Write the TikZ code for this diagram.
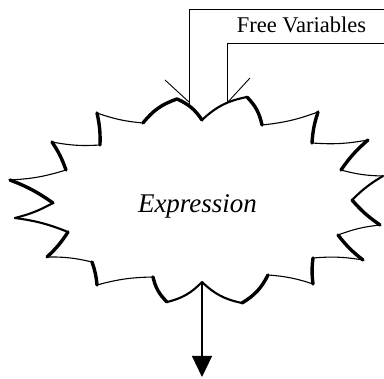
\documentclass[tikz,border=0pt]{standalone}
\usepackage{fontspec}
\setmainfont{Liberation Serif}
\usetikzlibrary{arrows.meta}
\begin{document}
\begin{tikzpicture}[x=1pt,y=1pt,
  thinline/.style={line width=0.9pt},
  sthin/.style={line width=1.1pt,line cap=round},
  smed/.style={line width=2.1pt,line cap=round},
  sthick/.style={line width=3.4pt,line cap=round},
  edge/.style={bend right=7},
  redge/.style={bend left=16}]
\useasboundingbox (0,0) rectangle (384,-379);
% star vertices
\coordinate (I0) at (202,-120);
\coordinate (O1) at (247,-97);
\coordinate (I1) at (262,-125);
\coordinate (O2) at (318,-112);
\coordinate (I2) at (312,-143);
\coordinate (O3) at (368,-140);
\coordinate (I3) at (341,-170);
\coordinate (O4) at (383,-176);
\coordinate (I4) at (352,-200);
\coordinate (O5) at (380,-225);
\coordinate (I5) at (338,-235);
\coordinate (O6) at (363,-260);
\coordinate (I6) at (313,-258);
\coordinate (O7) at (313,-284);
\coordinate (I7) at (268,-275);
\coordinate (O8) at (242,-303);
\coordinate (I8) at (202,-282);
\coordinate (O9) at (167,-302);
\coordinate (I9) at (153,-277);
\coordinate (O10) at (97,-285);
\coordinate (I10) at (92,-262);
\coordinate (O11) at (47,-257);
\coordinate (I11) at (68,-232);
\coordinate (O12) at (15,-218);
\coordinate (I12) at (53,-203);
\coordinate (O13) at (10,-180);
\coordinate (I13) at (66,-170);
\coordinate (O14) at (52,-142);
\coordinate (I14) at (100,-145);
\coordinate (O15) at (97,-113);
\coordinate (I15) at (143,-123);
\coordinate (O16) at (177,-99);
% free variables bracket
\coordinate (r1) at (384,-9);
\coordinate (c1) at (189,-9);
\coordinate (e1) at (189,-112);
\coordinate (b1) at (189,-102);
\coordinate (r2) at (384,-43);
\coordinate (c2) at (227,-43);
\coordinate (e2) at (227,-112);
\coordinate (b2) at (227,-103);
\coordinate (vl) at (165,-80);
\coordinate (vr) at (250,-78);
\draw[thinline] (r1) -- (c1) -- (e1);
\draw[thinline] (r2) -- (c2) -- (e2);
\draw[thinline] (vl) -- (b1);
\draw[thinline] (vr) -- (b2);
\node[anchor=base,inner sep=0pt] (fv) at (301.5,-33) {\fontsize{22.5}{26}\selectfont Free Variables};
% star fill
\fill[white] (I0) to[redge] (O1) to[redge] (I1) to[edge] (O2) to[edge] (I2)
  to[edge] (O3) to[edge] (I3) to[edge] (O4) to[edge] (I4) to[edge] (O5)
  to[edge] (I5) to[edge] (O6) to[edge] (I6) to[edge] (O7) to[edge] (I7)
  to[redge] (O8) to[redge] (I8) to[redge] (O9) to[redge] (I9) to[edge] (O10)
  to[edge] (I10) to[edge] (O11) to[edge] (I11) to[edge] (O12) to[edge] (I12)
  to[edge] (O13) to[edge] (I13) to[edge] (O14) to[edge] (I14) to[edge] (O15)
  to[edge] (I15) to[redge] (O16) to[redge] (I0) -- cycle;
% star outline, calligraphic widths
\draw[smed] (I0) to[redge] (O1);
\draw[sthick] (O1) to[redge] (I1);
\draw[sthin] (I1) to[edge] (O2);
\draw[sthick] (O2) to[edge] (I2);
\draw[sthin] (I2) to[edge] (O3);
\draw[sthick] (O3) to[edge] (I3);
\draw[sthin] (I3) to[edge] (O4);
\draw[smed] (O4) to[edge] (I4);
\draw[sthick] (I4) to[edge] (O5);
\draw[sthin] (O5) to[edge] (I5);
\draw[sthick] (I5) to[edge] (O6);
\draw[sthin] (O6) to[edge] (I6);
\draw[sthick] (I6) to[edge] (O7);
\draw[sthin] (O7) to[edge] (I7);
\draw[sthick] (I7) to[redge] (O8);
\draw[smed] (O8) to[redge] (I8);
\draw[smed] (I8) to[redge] (O9);
\draw[sthick] (O9) to[redge] (I9);
\draw[sthin] (I9) to[edge] (O10);
\draw[sthick] (O10) to[edge] (I10);
\draw[sthin] (I10) to[edge] (O11);
\draw[sthick] (O11) to[edge] (I11);
\draw[smed] (I11) to[edge] (O12);
\draw[smed] (O12) to[edge] (I12);
\draw[sthick] (I12) to[edge] (O13);
\draw[sthin] (O13) to[edge] (I13);
\draw[sthick] (I13) to[edge] (O14);
\draw[sthin] (O14) to[edge] (I14);
\draw[sthick] (I14) to[edge] (O15);
\draw[sthin] (O15) to[edge] (I15);
\draw[sthick] (I15) to[redge] (O16);
\draw[sthick] (O16) to[redge] (I0);
% label
\node[anchor=base,inner sep=0pt] (ex) at (197.5,-213) {\fontsize{27}{32}\selectfont\itshape Expression};
% output arrow
\coordinate (out) at (202,-377);
\draw[line width=1.1pt,-{Triangle[length=21pt,width=20pt]}] (I8) -- (out);
\end{tikzpicture}
\end{document}
